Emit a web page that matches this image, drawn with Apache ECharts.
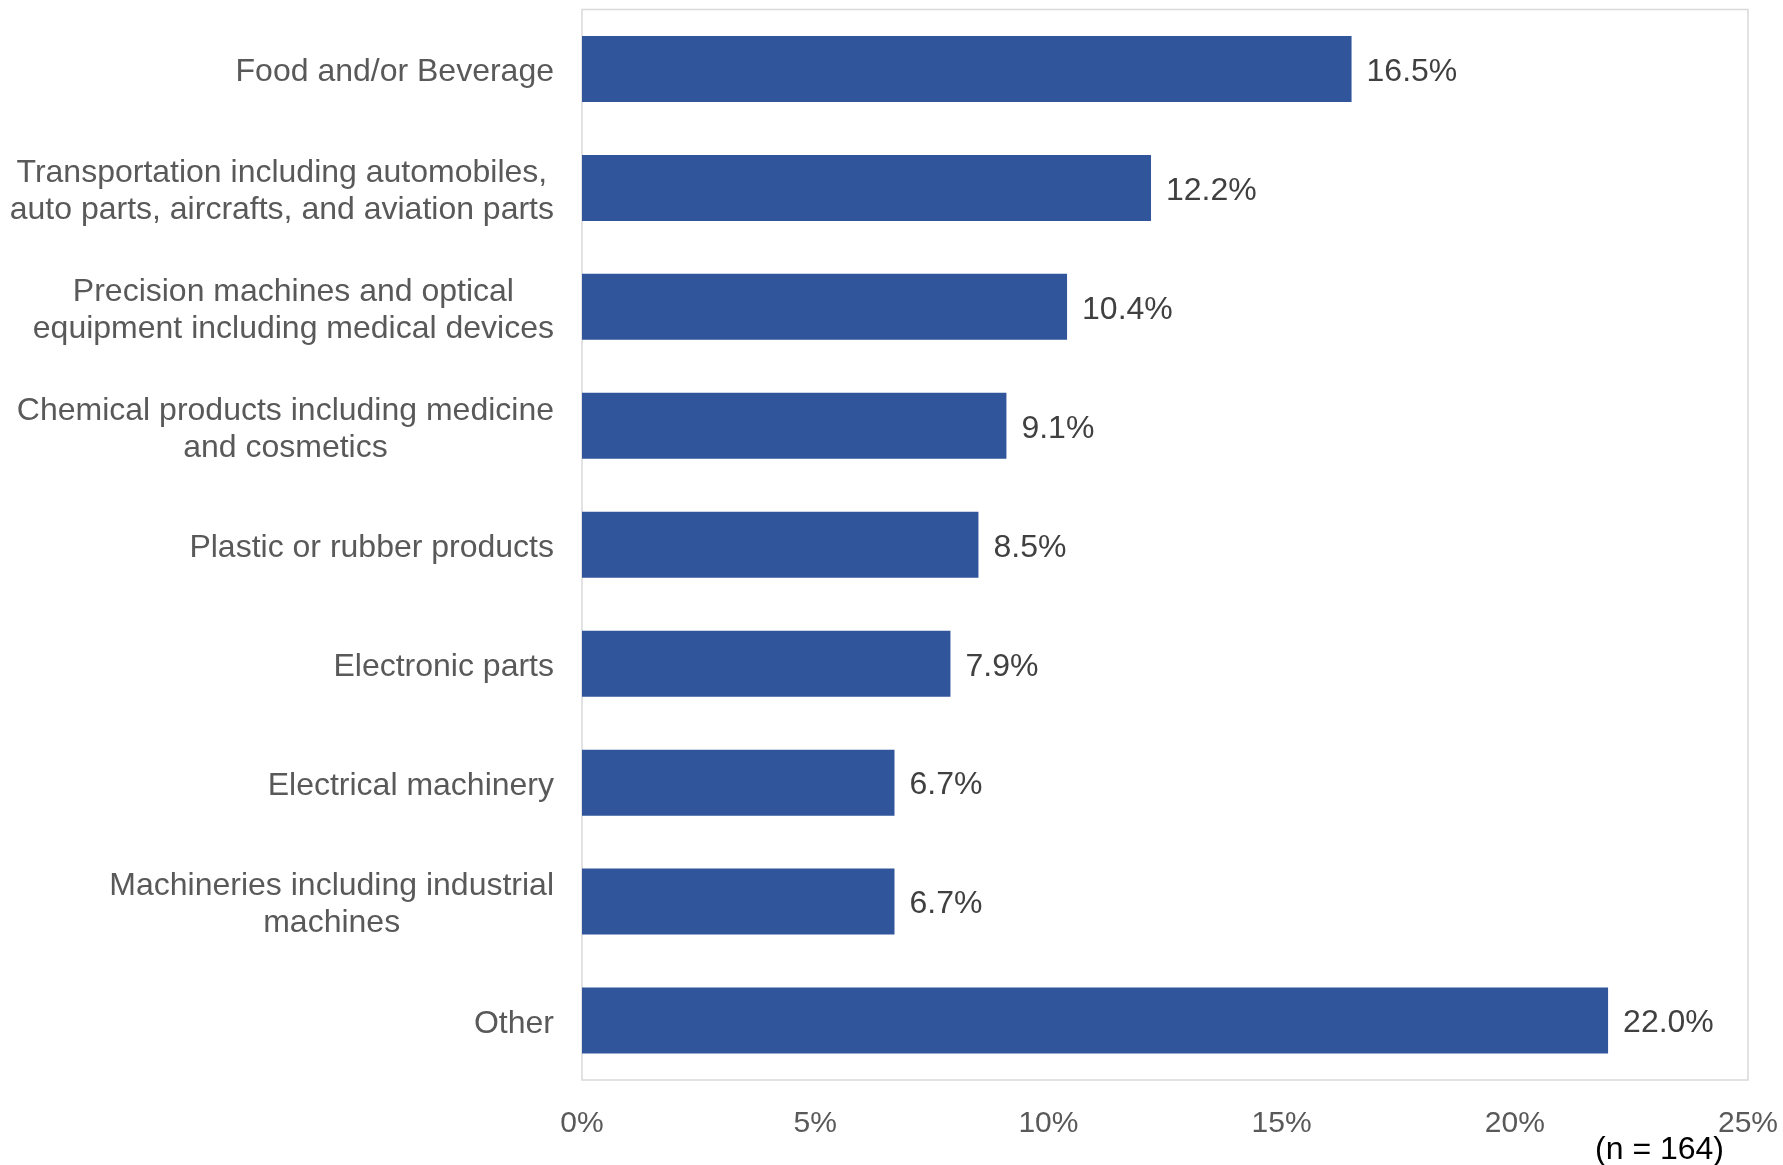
<!DOCTYPE html>
<html>
<head>
<meta charset="utf-8">
<script src="https://cdn.jsdelivr.net/npm/echarts@6/dist/echarts.min.js"></script>
<style>
  html, body { margin: 0; padding: 0; background: #fff; }
  #chart { width: 1783px; height: 1165px; }
</style>
</head>
<body>
<div id="chart"></div>
<script>
// Industries of respondents (share of companies, %)
const categories = [
  'Food and/or Beverage',
  'Transportation including automobiles,\nauto parts, aircrafts, and aviation parts',
  'Precision machines and optical\nequipment including medical devices',
  'Chemical products including medicine\nand cosmetics',
  'Plastic or rubber products',
  'Electronic parts',
  'Electrical machinery',
  'Machineries including industrial\nmachines',
  'Other'
];
const shares = [16.5, 12.2, 10.4, 9.1, 8.5, 7.9, 6.7, 6.7, 22.0];
const xTicks = [0, 5, 10, 15, 20, 25];
const sampleNote = '(n = 164)';

const FONT = 'Arial, "Liberation Sans", sans-serif';
const chart = echarts.init(document.getElementById('chart'), null, { renderer: 'canvas' });

chart.setOption({
  animation: false,
  backgroundColor: '#ffffff',
  grid: {
    left: 582, right: 35, top: 9.5, bottom: 85,
    show: true, borderColor: '#d9d9d9', borderWidth: 1.5,
    containLabel: false
  },
  xAxis: {
    type: 'value',
    min: xTicks[0],
    max: xTicks[xTicks.length - 1],
    interval: xTicks[1] - xTicks[0],
    axisLine: { show: false },
    axisTick: { show: false },
    splitLine: { show: false },
    axisLabel: {
      margin: 29,
      fontFamily: FONT, fontSize: 30, color: '#595959',
      formatter: v => v + '%'
    }
  },
  yAxis: {
    type: 'category',
    inverse: true,
    data: categories,
    axisLine: { show: false },
    axisTick: { show: false },
    splitLine: { show: false },
    axisLabel: {
      margin: 28,
      padding: [7, 0, 0, 0],
      fontFamily: FONT, fontSize: 32, color: '#595959',
      lineHeight: 37,
      formatter: name => name.split('\n').map(l => '{c|' + l + '}').join('\n'),
      rich: {
        c: { align: 'center', fontFamily: FONT, fontSize: 32, color: '#595959', lineHeight: 37 }
      }
    }
  },
  series: [{
    type: 'bar',
    data: shares,
    barWidth: '55.5%',
    itemStyle: { color: '#30559A' },
    label: {
      show: true,
      position: 'right',
      distance: 15,
      offset: [0, 3],
      fontFamily: FONT, fontSize: 32, color: '#404040',
      formatter: p => p.value.toFixed(1) + '%'
    }
  }],
  graphic: [{
    type: 'text',
    right: 59,
    top: 1134,
    style: {
      text: sampleNote,
      fontFamily: FONT, fontSize: 32, fill: '#000000'
    }
  }]
});
</script>
</body>
</html>
